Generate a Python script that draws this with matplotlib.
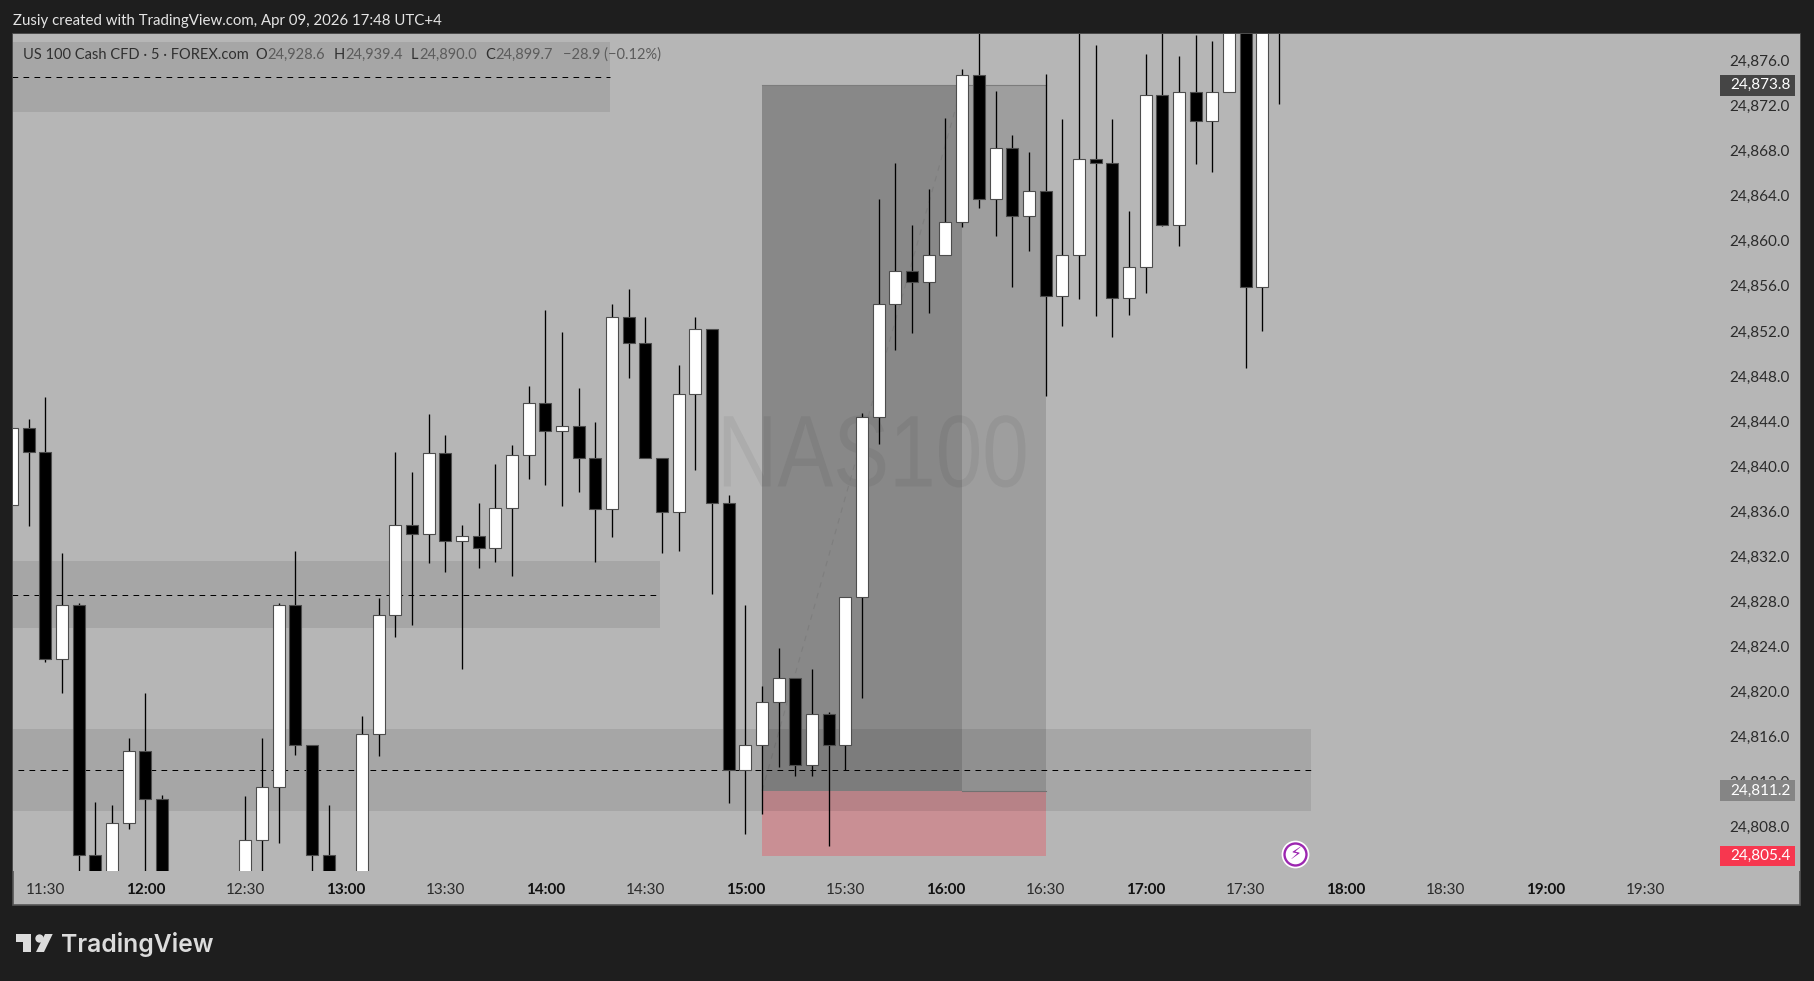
import numpy as np
import matplotlib
matplotlib.use('Agg')
import matplotlib.pyplot as plt
import matplotlib.patheffects as pe
from matplotlib.patches import Rectangle, Polygon
from matplotlib.transforms import Affine2D

# 5 minute bars, first bar is 11:20. nan = bar sits below the visible range
opens = [24836.6, 24843.4, 24841.3, 24822.9, 24827.7, 24805.5, 24802.8, 24808.3, 24814.7, 24810.5,
         np.nan, np.nan, np.nan, np.nan, 24802.8, 24806.8, 24811.5, 24827.7, 24815.3, 24805.5,
         np.nan, 24802.8, 24816.2, 24826.8, 24834.8, 24834.0, 24841.2, 24833.4, 24833.8, 24832.7,
         24836.3, 24841.0, 24845.6, 24843.1, 24843.6, 24840.7, 24836.2, 24853.2, 24850.9, 24840.7,
         24835.9, 24846.4, 24852.2, 24836.7, 24813.0, 24815.3, 24819.1, 24821.2, 24813.5, 24818.0,
         24815.3, 24828.4, 24844.4, 24854.4, 24857.3, 24856.3, 24858.7, 24861.7, 24874.7, 24863.7,
         24868.2, 24862.2, 24864.4, 24855.1, 24858.7, 24867.3, 24866.9, 24854.9, 24857.7, 24872.9,
         24861.4, 24873.2, 24870.6, 24873.2, 24881.0, 24855.9, 24880.0]
highs = [24843.4, 24844.2, 24846.1, 24832.3, 24827.9, 24810.2, 24809.9, 24815.9, 24819.9, 24810.8,
         np.nan, np.nan, np.nan, np.nan, 24810.7, 24815.9, 24827.9, 24832.5, 24815.3, 24809.9,
         np.nan, 24817.8, 24828.3, 24841.3, 24839.5, 24844.6, 24842.8, 24834.8, 24836.7, 24840.2,
         24841.9, 24847.1, 24853.9, 24851.9, 24846.9, 24843.9, 24854.4, 24855.7, 24853.2, 24840.7,
         24849.0, 24853.2, 24852.2, 24837.4, 24827.7, 24820.5, 24823.9, 24821.2, 24822.0, 24818.2,
         24828.4, 24844.7, 24863.7, 24866.9, 24861.4, 24864.6, 24870.9, 24875.2, 24879.6, 24873.3,
         24869.4, 24867.9, 24874.8, 24870.8, 24879.6, 24877.4, 24870.8, 24862.6, 24876.6, 24879.6,
         24876.4, 24878.3, 24877.7, 24882.0, 24883.0, 24883.0, 24885.0]
lows = [24836.6, 24834.7, 24822.6, 24819.9, 24803.3, 24802.0, 24802.4, 24807.8, 24803.3, 24801.9,
        np.nan, np.nan, np.nan, np.nan, 24802.4, 24803.3, 24806.6, 24814.4, 24803.3, 24802.0,
        np.nan, 24802.4, 24814.3, 24824.8, 24825.9, 24831.4, 24830.6, 24822.0, 24831.0, 24831.5,
        24830.3, 24838.9, 24838.3, 24836.5, 24837.7, 24831.5, 24833.7, 24847.8, 24840.7, 24832.3,
        24832.5, 24839.7, 24828.7, 24810.1, 24807.4, 24809.1, 24813.3, 24812.5, 24812.5, 24806.3,
        24813.0, 24819.4, 24842.0, 24850.3, 24851.8, 24853.6, 24858.7, 24861.2, 24862.9, 24860.4,
        24855.9, 24859.1, 24846.2, 24852.4, 24854.8, 24853.3, 24851.5, 24853.4, 24855.4, 24861.3,
        24859.5, 24866.8, 24866.1, 24873.2, 24848.7, 24852.0, 24872.1]
closes = [24843.4, 24841.3, 24822.9, 24827.7, 24805.5, 24802.4, 24808.3, 24814.7, 24810.5, 24802.4,
          np.nan, np.nan, np.nan, np.nan, 24806.8, 24811.5, 24827.7, 24815.3, 24805.5, 24802.4,
          np.nan, 24816.2, 24826.8, 24834.8, 24834.0, 24841.2, 24833.4, 24833.8, 24832.7, 24836.3,
          24841.0, 24845.6, 24843.1, 24843.6, 24840.7, 24836.2, 24853.2, 24850.9, 24840.7, 24835.9,
          24846.4, 24852.2, 24836.7, 24813.0, 24815.3, 24819.1, 24821.2, 24813.5, 24818.0, 24815.3,
          24828.4, 24844.4, 24854.4, 24857.3, 24856.3, 24858.7, 24861.7, 24874.7, 24863.7, 24868.2,
          24862.2, 24864.4, 24855.1, 24858.7, 24867.3, 24866.9, 24854.9, 24857.7, 24872.9, 24861.4,
          24873.2, 24870.6, 24873.2, 24881.0, 24855.9, 24881.5, 24884.0]
first_bar = -8  # bars counted from 12:00

time_ticks = [-6, 0, 6, 12, 18, 24, 30, 36, 42, 48, 54, 60, 66, 72, 78, 84, 90]
time_labels = ['11:30', '12:00', '12:30', '13:00', '13:30', '14:00', '14:30', '15:00', '15:30',
               '16:00', '16:30', '17:00', '17:30', '18:00', '18:30', '19:00', '19:30']
price_ticks = list(range(24808, 24880, 4))

# (low, high, mid, right end)
zones = [(24871.4, 24877.6, 24874.5, 27.87),
         (24825.6, 24831.6, 24828.6, 30.9),
         (24809.4, 24816.7, 24813.0, 69.9)]

entry_price = 24811.2
target_price = 24873.8
stop_price = 24805.4
box_left = 37
box_mid = 49
box_right = 54

W, H = 1814, 981
bg = '#1e1e1e'
panel = '#b6b6b6'
txt_font = ['Lato', 'DejaVu Sans']


def fx(px):
    return px / W


def fy(py):
    return 1 - py / H


class SqueezeX(pe.AbstractPathEffect):
    # watermark font is narrower than anything installed
    def __init__(self, cx, sx):
        super().__init__()
        self.cx = cx
        self.sx = sx

    def draw_path(self, renderer, gc, tpath, affine, rgbFace=None):
        squeeze = Affine2D().translate(-self.cx, 0).scale(self.sx, 1).translate(self.cx, 0)
        renderer.draw_path(gc, tpath, affine + squeeze, rgbFace)


fig = plt.figure(figsize=(W / 100, H / 100), dpi=100, facecolor=bg)
fig.add_artist(Rectangle((fx(12.5), fy(905)), fx(1800 - 12.5), (905 - 33.5) / H, transform=fig.transFigure,
                         facecolor=panel, edgecolor='#555555', lw=1.2, zorder=-1))

ax = fig.add_axes([fx(13.3), fy(871), fx(1800 - 13.3), (871 - 34) / H], facecolor=panel)
for s in ax.spines.values():
    s.set_visible(False)
ax.set_xlim(-7.92, 99.26)
ax.set_ylim(24804.08, 24878.35)

# y ticks sit inside the panel on the right
ax.yaxis.tick_right()
ax.set_yticks(price_ticks)
ax.set_yticklabels([f'{p:,.1f}' for p in price_ticks], family=txt_font, fontsize=11, color='#2b2b2b')
ax.tick_params(axis='y', length=0, pad=-51)
ax.set_xticks(time_ticks)
ax.set_xticklabels(time_labels, family=txt_font, fontsize=11, color='#2b2b2b')
ax.tick_params(axis='x', length=0, pad=9)
for lab, t in zip(ax.get_xticklabels(), time_ticks):
    if t % 12 == 0:
        lab.set_fontweight('bold')
        lab.set_color('#111111')

ax.text((873 - 146.3) / 16.67 + 0.06, 24838.2, 'NAS100', family='Liberation Sans', fontsize=73.5, color='black',
        alpha=0.055, ha='center', va='baseline', zorder=0.5, path_effects=[SqueezeX(873, 0.82)])

# position tool
ax.fill_between([box_left, box_mid], entry_price, target_price, color='black', alpha=0.25, lw=0, zorder=1)
ax.fill_between([box_mid, box_right], entry_price, target_price, color='black', alpha=0.13, lw=0, zorder=1)
ax.fill_between([box_left, box_right], stop_price, entry_price, color='#c98f94', lw=0, zorder=1)
ax.plot([box_left, box_right], [target_price, target_price], color='#7c7c7c', lw=0.8, zorder=1.2)
ax.plot([box_mid, box_right], [entry_price, entry_price], color='#7c7c7c', lw=0.8, zorder=1.2)
ax.plot([box_left, box_mid], [entry_price, target_price], color='#777777', lw=0.8, ls=(0, (5, 5)), alpha=0.6, zorder=1.3)

# zones with their mid line
for i, (lo, hi, mid, right) in enumerate(zones):
    ax.fill_between([-8, right], lo, hi, color='black', alpha=0.088, lw=0, zorder=2)
    start = -7.62 if i == 2 else -8
    ax.plot([start, right], [mid, mid], color='black', lw=0.72, ls=(0, (5.7, 5.3)), zorder=3)

# candles
xs = np.arange(len(opens)) + first_bar
o = np.array(opens)
h = np.array(highs)
l = np.array(lows)
c = np.array(closes)
ok = ~np.isnan(o)
ax.vlines(xs[ok], l[ok], h[ok], color='black', lw=0.95, zorder=5)
colors = ['white' if up else 'black' for up in c[ok] >= o[ok]]
ax.bar(xs[ok], np.abs(c[ok] - o[ok]), bottom=np.minimum(o[ok], c[ok]), width=0.72, color=colors,
       edgecolor='#4d4d4d', lw=0.8, zorder=6)

# price badges, x in axes fraction
tr = ax.get_yaxis_transform()
x0 = (1720 - 13.3) / (1800 - 13.3)
x1 = (1794.5 - 13.3) / (1800 - 13.3)
tx = (1730 - 13.3) / (1800 - 13.3)
for price, col in [(target_price, '#454545'), (entry_price, '#858585'), (stop_price, '#f7374f')]:
    ax.add_patch(Rectangle((x0, price - 0.92), x1 - x0, 1.84, transform=tr, facecolor=col, lw=0, zorder=9,
                           clip_on=False))
    ax.text(tx, price, f'{price:,.1f}', transform=tr, family=txt_font, fontsize=11, color='white',
            ha='left', va='center', zorder=10)

# flash icon
ix, ip = 68.99, 24805.6
ax.scatter([ix], [ip], s=400, color='white', lw=0, zorder=7, clip_on=False)
ax.scatter([ix], [ip], s=250, facecolor='white', edgecolor='#9c27b0', lw=1.7, zorder=8, clip_on=False)
ax.text(ix, ip, '\u26a1', family='DejaVu Sans', fontsize=12.5, color='#9c27b0', ha='center', va='center', zorder=9)

# header text
fig.text(fx(13), fy(21), 'Zusiy created with TradingView.com, Apr 09, 2026 17:48 UTC+4', family=txt_font,
         fontsize=10.8, color='#e4e4e4', va='center')
fig.text(fx(23), fy(55), 'US 100 Cash CFD \u00b7 5 \u00b7 FOREX.com', family=txt_font, fontsize=10.5, color='#303030', va='center')
ohlc = [('O', '24,928.6', 255.6, 267.5), ('H', '24,939.4', 334, 345), ('L', '24,890.0', 411, 419.5),
        ('C', '24,899.7', 485.6, 495)]
for letter, val, lx, vx in ohlc:
    fig.text(fx(lx), fy(55), letter, family=txt_font, fontsize=10.5, color='#303030', va='center')
    fig.text(fx(vx), fy(55), val, family=txt_font, fontsize=10.5, color='#5c5c5c', va='center')
fig.text(fx(563), fy(55), '\u221228.9 (\u22120.12%)', family=txt_font, fontsize=10.5, color='#5c5c5c', va='center')

# footer logo
logo = '#dcdcdc'
t_pts = [(15.7, 934), (31.3, 934), (31.3, 952), (22.7, 952), (22.7, 942), (15.7, 942)]
slash = [(45, 934), (52.7, 934), (44, 952), (36, 952)]
for pts in (t_pts, slash):
    fig.add_artist(Polygon([(fx(a), fy(b)) for a, b in pts], closed=True, transform=fig.transFigure,
                           facecolor=logo, lw=0))
fig.add_artist(plt.Line2D([fx(38.5)], [fy(937.7)], marker='o', ms=6, color=logo, mew=0, transform=fig.transFigure))
fig.text(fx(61), fy(952), 'TradingView', family=['Inter', 'Lato'], fontsize=17.8, fontweight='semibold', color=logo, va='baseline')

fig.savefig('out.png', dpi=100, facecolor=bg)
